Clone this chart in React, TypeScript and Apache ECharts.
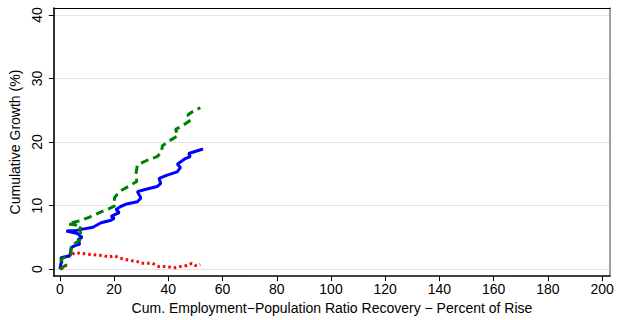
import React, { useEffect, useRef } from "react";
import * as echarts from "echarts";

const xTicks = [0, 20, 40, 60, 80, 100, 120, 140, 160, 180, 200];
const yTicks = [0, 10, 20, 30, 40];

const blueX = [0, 0.6, 0.4, 3.7, 4.2, 5.5, 7.3, 6.8, 8.2, 6.5, 2.4, 6.1, 8.5, 12.2, 15.2, 18.9, 20.1, 18.9, 21.9, 20.7, 22.6, 25.0, 28.6, 29.9, 28.6, 31.1, 35.9, 37.2, 36.6, 39.6, 43.3, 44.5, 43.3, 46.3, 48.1, 47.5, 52.8];
const blueY = [0, 1.2, 1.8, 2.1, 3.4, 3.7, 3.9, 4.7, 5.0, 5.6, 6.0, 6.1, 6.3, 6.6, 7.3, 7.7, 8.0, 8.3, 8.9, 9.4, 9.9, 10.3, 10.6, 11.2, 12.2, 12.5, 13.0, 13.5, 14.3, 14.8, 15.3, 16.0, 16.5, 17.4, 17.7, 18.2, 18.9];

const greenX = [0, 2.2, 0.4, 0.6, 4.0, 4.3, 6.1, 7.3, 7.9, 7.3, 7.9, 3.0, 7.3, 11.0, 14.6, 18.0, 20.5, 20.1, 21.9, 25.6, 28.4, 28.0, 28.6, 32.0, 35.9, 37.5, 37.8, 40.8, 43.6, 42.7, 45.7, 48.4, 47.2, 49.4, 51.8];
const greenY = [0, 0.6, 1.0, 1.6, 2.3, 3.7, 4.2, 4.5, 5.2, 6.3, 6.8, 7.15, 7.6, 8.2, 8.9, 9.5, 10.0, 11.2, 12.2, 13.1, 13.8, 14.8, 16.4, 17.1, 17.7, 18.4, 19.4, 20.3, 21.0, 22.0, 22.7, 23.5, 24.3, 24.9, 25.4];

const redX = [0.4, 2.4, 0.6, 0.8, 3.7, 5.5, 7.9, 11.6, 16.5, 18.0, 20.1, 21.9, 26.2, 28.6, 29.9, 34.1, 36.6, 39.6, 42.0, 44.5, 46.9, 48.7, 50.0, 51.8];
const redY = [0, 0.57, 1.2, 1.76, 2.1, 2.6, 2.5, 2.3, 2.1, 1.9, 2.1, 1.76, 1.35, 1.2, 0.93, 0.93, 0.41, 0.41, 0.2, 0.41, 0.57, 0.93, 0.57, 0.73];

const pairs = (xs: number[], ys: number[]) => xs.map((x, i) => [x, ys[i]]);

const FONT = "Liberation Sans";

export default function App() {
  const ref = useRef<HTMLDivElement>(null);
  useEffect(() => {
    if (!ref.current) return;
    const chart = echarts.init(ref.current, null, { renderer: "svg" });
    chart.setOption({
      animation: false,
      backgroundColor: "#ffffff",
      textStyle: { fontFamily: FONT },
      grid: { left: 49, right: 16, top: 8, bottom: 41, containLabel: false },
      xAxis: [
        {
          type: "value",
          min: -2.19,
          max: 202.9,
          axisLine: { show: true, onZero: false, lineStyle: { color: "#000", width: 1.5 } },
          axisTick: { show: true, customValues: xTicks, length: 5, lineStyle: { color: "#000", width: 1 } },
          axisLabel: { customValues: xTicks, fontSize: 14, color: "#000", margin: 6, fontFamily: FONT },
          splitLine: { show: false },
          name: "Cum. Employment\u2212Population Ratio Recovery \u2212 Percent of Rise",
          nameLocation: "middle",
          nameGap: 20,
          nameTextStyle: { fontSize: 14, color: "#000", fontFamily: FONT },
        },
        {
          type: "value",
          position: "top",
          min: -2.19,
          max: 202.9,
          axisLine: { show: true, onZero: false, lineStyle: { color: "#000", width: 1.2 } },
          axisTick: { show: false },
          axisLabel: { show: false },
          splitLine: { show: false },
        },
      ],
      yAxis: [
        {
          type: "value",
          min: -1.09,
          max: 41.09,
          axisLine: { show: true, onZero: false, lineStyle: { color: "#000", width: 1.6 } },
          axisTick: { show: true, customValues: yTicks, length: 5, lineStyle: { color: "#000", width: 1 } },
          axisLabel: { customValues: yTicks, rotate: 90, fontSize: 14, color: "#000", margin: 10, fontFamily: FONT },
          splitLine: { show: true, lineStyle: { color: "#e3e3e3", width: 1 } },
          name: "Cumulative Growth (%)",
          nameLocation: "middle",
          nameGap: 22,
          nameTextStyle: { fontSize: 14, color: "#000", fontFamily: FONT },
        },
        {
          type: "value",
          position: "right",
          min: -1.09,
          max: 41.09,
          axisLine: { show: true, onZero: false, lineStyle: { color: "#808080", width: 1.5 } },
          axisTick: { show: false },
          axisLabel: { show: false },
          splitLine: { show: false },
        },
      ],
      series: [
        {
          type: "line",
          data: pairs(redX, redY),
          showSymbol: false,
          lineStyle: { color: "#ff0000", width: 3, type: [2.5, 3] },
        },
        {
          type: "line",
          data: pairs(blueX, blueY),
          showSymbol: false,
          lineStyle: { color: "#0000ff", width: 3, type: "solid" },
        },
        {
          type: "line",
          data: pairs(greenX, greenY),
          showSymbol: false,
          lineStyle: { color: "#008000", width: 3, type: [8, 5] },
        },
      ],
    });
    return () => chart.dispose();
  }, []);
  return <div ref={ref} style={{ width: 626, height: 320, position: "absolute", left: 0, top: 0 }} />;
}
